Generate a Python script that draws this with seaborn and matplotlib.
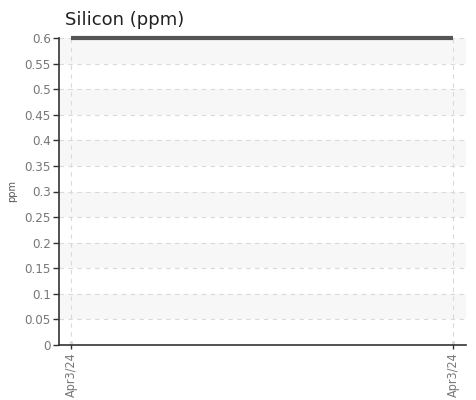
import numpy as np
import pandas as pd
import seaborn as sns
import matplotlib.pyplot as plt

dates = ["Apr3/24", "Apr3/24"]
silicon = [0.6, 0.6]
yticks = [0, 0.05, 0.1, 0.15, 0.2, 0.25, 0.3, 0.35, 0.4, 0.45, 0.5, 0.55, 0.6]
ytick_labels = ["0", "0.05", "0.1", "0.15", "0.2", "0.25", "0.3", "0.35", "0.4", "0.45", "0.5", "0.55", "0.6"]

df = pd.DataFrame({"pos": range(len(dates)), "value": silicon})

sns.set_style("white")
plt.rcParams['font.family'] = ['DejaVu Sans']

fig = plt.figure(figsize=(4.77, 4.0), dpi=100)
ax = fig.add_axes([0.1237, 0.1375, 0.8533, 0.7675])

# alternating bands
for i in range(1, len(yticks) - 1, 2):
    ax.axhspan(yticks[i], yticks[i + 1], color="#f7f7f7", zorder=0, lw=0)

for y in yticks[1:]:
    ax.axhline(y, color="#dadada", ls=(0, (4, 4)), lw=0.8, zorder=1)
for x in df["pos"]:
    ax.axvline(x, color="#dadada", ls=(0, (4, 4)), lw=0.8, zorder=1)

sns.lineplot(data=df, x="pos", y="value", ax=ax, color="#555555", lw=3, zorder=3,
             clip_on=False, solid_capstyle="butt")

ax.set_xlim(-0.0314, 1.034)
ax.set_ylim(0, 0.6)
tick_font = dict(family=['DejaVu Sans'], stretch='condensed', fontsize=9.5, color="#777777")
ax.set_yticks(yticks)
ax.set_yticklabels(ytick_labels, **tick_font)
ax.set_xticks(df["pos"])
ax.set_xticklabels(dates, rotation=90, family=['DejaVu Sans'], stretch='condensed',
                   fontsize=9, color="#777777")
ax.tick_params(axis="y", direction="out", length=4, width=1, color="#333333", pad=2, left=True)
ax.tick_params(axis="x", direction="inout", length=6, width=1, color="#333333", pad=2, bottom=True)

ax.set_xlabel("")
ax.set_ylabel("ppm", fontsize=7, color="#555555", labelpad=5)

for s in ["top", "right"]:
    ax.spines[s].set_visible(False)
ax.spines["left"].set_color("#333333")
ax.spines["bottom"].set_color("#333333")
ax.spines["left"].set_linewidth(1.2)
ax.spines["bottom"].set_linewidth(1.2)

fig.text(65 / 477, 1 - 20 / 400, "Silicon (ppm)", fontsize=13, color="#222222", va="center", ha="left")

fig.savefig("out.png", dpi=100)
